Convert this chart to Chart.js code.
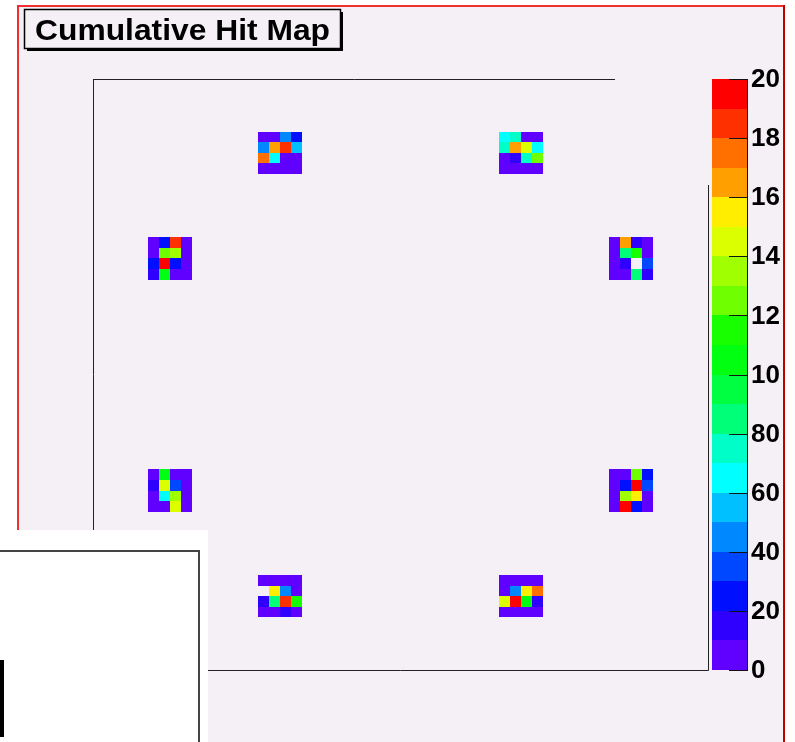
<!DOCTYPE html>
<html>
<head>
<meta charset="utf-8">
<script src="https://cdn.jsdelivr.net/npm/chart.js@4/dist/chart.umd.min.js"></script>
<style>
  html, body { margin: 0; padding: 0; background: #ffffff; overflow: hidden; }
  canvas { display: block; }
</style>
</head>
<body>
<canvas id="hitmap" width="795" height="742"></canvas>
<script>
// ---- histogram content -------------------------------------------------
const titleText = 'Cumulative Hit Map';
const nBinsX = 56;
const nBinsY = 56;

// colour scale (z axis): 20 contour levels from 0 to 200
const zMin = 0;
const zMax = 200;
const zStep = 10;
const paletteColors = [
  '#6000ff', '#3000ff', '#0010ff', '#0048ff', '#0088ff',
  '#00c0ff', '#00ffff', '#00ffc8', '#00ff78', '#00ff40',
  '#00ff10', '#18ff00', '#70ff00', '#a0ff00', '#dcff00',
  '#ffee00', '#ffa000', '#ff7000', '#ff3000', '#ff0000'
];
const zTickValues = [0, 20, 40, 60, 80, 100, 120, 140, 160, 180, 200];
const zTickLabels = ['0', '20', '40', '60', '80', '10', '12', '14', '16', '18', '20'];

// lower-left bin (x, y) of each 4x4 sensor block
const clusterOrigins = [
  [15, 47], [37, 47],
  [5, 37],  [47, 37],
  [5, 15],  [47, 15],
  [15, 5],  [37, 5]
];

// hits per block, rows listed top to bottom; null = empty bin
const clusterHits = [
  [[5, 5, 45, 25], [45, 165, 185, 55], [175, 65, 5, 5], [5, 5, 5, 5]],
  [[65, 75, 5, 5], [75, 165, 145, 65], [5, 15, 75, 125], [5, 5, 5, 5]],
  [[5, 25, 185, 5], [5, 125, 135, 5], [25, 195, 25, 5], [15, 105, 5, 5]],
  [[5, 165, 15, 5], [5, 85, 115, 5], [5, 15, null, 35], [5, 5, 85, 15]],
  [[5, 105, 5, 5], [15, 145, 35, 5], [5, 65, 135, 5], [5, 5, 145, 5]],
  [[5, 5, 125, 25], [5, 25, 195, 35], [5, 135, 155, 5], [5, 195, 25, 5]],
  [[5, 5, 5, 5], [null, 155, 45, 5], [15, 85, 185, 115], [5, 5, 15, 5]],
  [[5, 5, 5, 5], [5, 45, 155, 175], [145, 195, 105, 15], [5, 5, 5, 5]]
];

// flatten the blocks into bin cells
const cells = [];
clusterHits.forEach((block, k) => {
  const [ox, oy] = clusterOrigins[k];
  block.forEach((row, r) => {
    row.forEach((v, c) => {
      if (v === null) return;
      cells.push({ x: ox + c + 0.5, y: oy + (block.length - 1 - r) + 0.5, v: v });
    });
  });
});

// ---- styling ------------------------------------------------------------
const padColor = '#f5f0f5';
const FONT = '"Liberation Sans", Arial, Helvetica, sans-serif';

function colorFor(v) {
  let i = Math.floor((v - zMin) / zStep);
  i = Math.max(0, Math.min(paletteColors.length - 1, i));
  return paletteColors[i];
}

const rootPadPlugin = {
  id: 'rootPad',
  beforeDraw(chart) {
    const ctx = chart.ctx;
    ctx.save();
    ctx.fillStyle = '#ffffff';
    ctx.fillRect(0, 0, chart.width, chart.height);
    ctx.fillStyle = padColor;
    ctx.fillRect(17, 5, 767, chart.height - 5);
    ctx.restore();
  },
  beforeDatasetsDraw(chart) {
    // COLZ-style bin boxes
    const ctx = chart.ctx;
    const xs = chart.scales.x, ys = chart.scales.y;
    ctx.save();
    chart.data.datasets[0].data.forEach(p => {
      const x0 = Math.round(xs.getPixelForValue(p.x - 0.5));
      const x1 = Math.round(xs.getPixelForValue(p.x + 0.5));
      const y0 = Math.round(ys.getPixelForValue(p.y + 0.5));
      const y1 = Math.round(ys.getPixelForValue(p.y - 0.5));
      ctx.fillStyle = colorFor(p.v);
      ctx.fillRect(x0, y0, x1 - x0, y1 - y0);
    });
    ctx.restore();
  },
  afterDatasetsDraw(chart) {
    const ctx = chart.ctx;
    const a = chart.chartArea;
    const zs = chart.scales.z;
    ctx.save();

    // frame
    ctx.strokeStyle = '#222222';
    ctx.lineWidth = 1;
    ctx.beginPath();
    ctx.moveTo(a.left + 0.5, a.top + 0.5); ctx.lineTo(615, a.top + 0.5);
    ctx.moveTo(a.left + 0.5, a.top); ctx.lineTo(a.left + 0.5, a.bottom);
    ctx.moveTo(a.left, a.bottom + 0.5); ctx.lineTo(a.right + 0.5, a.bottom + 0.5);
    ctx.moveTo(a.right + 0.5, 185); ctx.lineTo(a.right + 0.5, a.bottom + 0.5);
    ctx.stroke();

    // colour palette bar
    const barL = 712, barR = 747;
    for (let i = 0; i < paletteColors.length; i++) {
      const v0 = zMin + i * zStep;
      const yb = Math.round(zs.getPixelForValue(v0));
      const yt = Math.round(zs.getPixelForValue(v0 + zStep));
      ctx.fillStyle = paletteColors[i];
      ctx.fillRect(barL, yt, barR - barL, yb - yt);
    }
    ctx.strokeStyle = '#111111';
    ctx.beginPath();
    ctx.moveTo(barR + 0.5, Math.round(zs.getPixelForValue(zMax)));
    ctx.lineTo(barR + 0.5, Math.round(zs.getPixelForValue(zMin)) + 1);
    zTickValues.forEach(t => {
      const y = Math.round(zs.getPixelForValue(t)) + 0.5;
      ctx.moveTo(729, y); ctx.lineTo(barR + 1, y);
    });
    ctx.stroke();
    ctx.fillStyle = '#000000';
    ctx.font = 'bold 26px ' + FONT;
    ctx.textAlign = 'left';
    ctx.textBaseline = 'middle';
    zTickValues.forEach((t, i) => {
      ctx.fillText(zTickLabels[i], 751, zs.getPixelForValue(t) + 1);
    });

    // title pave with shadow
    ctx.fillStyle = '#000000';
    ctx.fillRect(27, 48, 316, 3);
    ctx.fillRect(340, 12, 3, 39);
    ctx.fillStyle = padColor;
    ctx.fillRect(24, 9, 316, 39);
    ctx.strokeStyle = '#000000';
    ctx.lineWidth = 1.5;
    ctx.strokeRect(24.5, 9.5, 316, 39);
    ctx.fillStyle = '#000000';
    ctx.font = 'bold 30px ' + FONT;
    ctx.textBaseline = 'alphabetic';
    const w = ctx.measureText(titleText).width;
    ctx.save();
    ctx.translate(35, 40);
    ctx.scale(295 / w, 1);
    ctx.fillText(titleText, 0, 0);
    ctx.restore();

    // pad border
    ctx.fillStyle = '#f03030';
    ctx.fillRect(17, 5, 767, 2);
    ctx.fillRect(17, 5, 2, chart.height - 5);
    ctx.fillStyle = '#c00000';
    ctx.fillRect(783, 5, 2, chart.height - 5);

    // window overlapping the lower-left corner
    ctx.fillStyle = '#ffffff';
    ctx.fillRect(0, 530, 208, chart.height - 530);
    ctx.strokeStyle = '#444444';
    ctx.lineWidth = 2;
    ctx.beginPath();
    ctx.moveTo(0, 551); ctx.lineTo(199, 551); ctx.lineTo(199, chart.height);
    ctx.stroke();
    ctx.fillStyle = '#000000';
    ctx.fillRect(0, 660, 4, 77);

    ctx.restore();
  }
};

new Chart(document.getElementById('hitmap').getContext('2d'), {
  type: 'scatter',
  data: {
    datasets: [{
      label: titleText,
      data: cells,
      pointRadius: 0,
      pointHoverRadius: 0
    }]
  },
  options: {
    responsive: false,
    animation: false,
    devicePixelRatio: 1,
    events: [],
    layout: { padding: { left: 93, top: 79, right: 87, bottom: 72 } },
    plugins: {
      legend: { display: false },
      tooltip: { enabled: false },
      title: { display: false }
    },
    scales: {
      x: { type: 'linear', min: 0, max: nBinsX, display: false },
      y: { type: 'linear', min: 0, max: nBinsY, display: false },
      z: { type: 'linear', axis: 'y', position: 'right', min: zMin, max: zMax, display: false }
    }
  },
  plugins: [rootPadPlugin]
});
</script>
</body>
</html>
